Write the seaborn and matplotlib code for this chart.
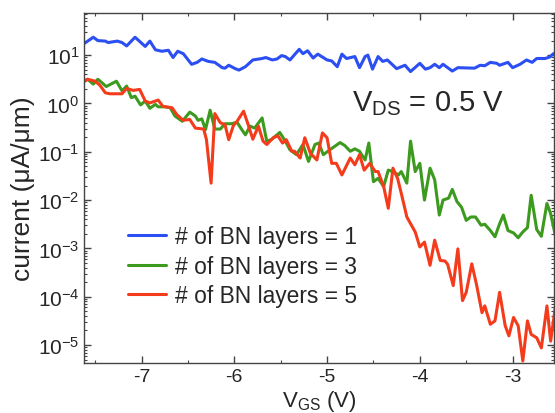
import numpy as np
import pandas as pd
import seaborn as sns
import matplotlib
matplotlib.use('Agg')
import matplotlib.pyplot as plt
from matplotlib.ticker import LogLocator, MultipleLocator, NullFormatter

# gate voltage (V) and log10 of current (uA/um)
vgs_1 = [-7.61, -7.52, -7.47, -7.39, -7.36, -7.26, -7.21, -7.16, -7.07, -6.96,
         -6.91, -6.85, -6.78, -6.71, -6.66, -6.61, -6.55, -6.46, -6.40, -6.35,
         -6.28, -6.21, -6.13, -6.10, -6.06, -5.99, -5.95, -5.88, -5.80, -5.70,
         -5.66, -5.59, -5.54, -5.49, -5.45, -5.40, -5.30, -5.26, -5.21, -5.15,
         -5.10, -5.00, -4.95, -4.89, -4.84, -4.79, -4.70, -4.65, -4.59, -4.56,
         -4.51, -4.45, -4.40, -4.35, -4.25, -4.16, -4.10, -4.00, -3.94, -3.89,
         -3.84, -3.79, -3.75, -3.65, -3.59, -3.41, -3.35, -3.30, -3.24, -3.17,
         -3.14, -3.05, -3.00, -2.92, -2.85, -2.79, -2.74, -2.65, -2.60, -2.56]
logi_1 = [1.25, 1.37, 1.30, 1.29, 1.26, 1.29, 1.26, 1.19, 1.37, 1.18,
          1.29, 1.11, 1.08, 1.10, 0.95, 1.08, 1.03, 0.81, 0.85, 0.92,
          0.87, 0.85, 0.74, 0.73, 0.79, 0.72, 0.69, 0.76, 0.90, 0.93,
          0.95, 0.90, 0.92, 0.99, 0.97, 0.90, 1.12, 1.03, 1.09, 0.94,
          1.02, 0.90, 0.88, 0.76, 1.02, 0.93, 0.97, 0.74, 0.97, 1.00,
          0.71, 0.97, 0.87, 0.90, 0.72, 0.79, 0.66, 0.83, 0.71, 0.74,
          0.81, 0.74, 0.81, 0.67, 0.74, 0.73, 0.79, 0.78, 0.85, 0.83,
          0.79, 0.85, 0.74, 0.81, 0.90, 0.85, 0.93, 0.93, 0.96, 1.03]

vgs_3 = [-7.62, -7.58, -7.52, -7.47, -7.38, -7.27, -7.21, -7.16, -7.11, -7.07,
         -7.01, -6.96, -6.91, -6.85, -6.82, -6.75, -6.69, -6.64, -6.56, -6.48,
         -6.42, -6.39, -6.35, -6.31, -6.26, -6.21, -6.15, -6.10, -6.03, -5.97,
         -5.92, -5.88, -5.83, -5.78, -5.70, -5.65, -5.60, -5.51, -5.45, -5.40,
         -5.33, -5.26, -5.20, -5.13, -5.09, -5.04, -4.97, -4.86, -4.81, -4.75,
         -4.70, -4.65, -4.59, -4.55, -4.50, -4.45, -4.39, -4.34, -4.29, -4.23,
         -4.20, -4.14, -4.10, -4.05, -4.00, -3.95, -3.89, -3.84, -3.79, -3.75,
         -3.69, -3.65, -3.60, -3.55, -3.50, -3.45, -3.40, -3.34, -3.30, -3.24,
         -3.19, -3.14, -3.10, -3.05, -2.99, -2.94, -2.89, -2.84, -2.80, -2.74,
         -2.69, -2.63, -2.59, -2.54]
logi_3 = [0.47, 0.50, 0.40, 0.50, 0.35, 0.46, 0.26, 0.36, 0.12, 0.15,
          -0.03, 0.05, -0.10, -0.02, -0.07, -0.07, -0.09, -0.26, -0.37, -0.18,
          -0.26, -0.35, -0.32, -0.54, -0.14, -0.53, -0.53, -0.42, -0.42, -0.39,
          -0.54, -0.65, -0.47, -0.51, -0.30, -0.78, -0.75, -0.60, -0.78, -0.96,
          -1.06, -0.85, -1.20, -0.85, -0.82, -1.06, -0.96, -0.81, -0.87, -0.99,
          -0.94, -0.99, -1.17, -0.82, -1.62, -1.55, -1.72, -1.38, -1.41, -1.48,
          -1.41, -1.65, -0.78, -1.41, -1.24, -2.00, -1.34, -1.58, -2.31, -2.00,
          -1.96, -1.78, -2.03, -2.15, -2.42, -2.35, -2.35, -2.52, -2.50, -2.63,
          -2.76, -2.49, -2.31, -2.63, -2.68, -2.78, -2.66, -2.57, -1.90, -2.61,
          -2.75, -2.07, -2.28, -2.73]

vgs_5 = [-7.62, -7.58, -7.50, -7.45, -7.39, -7.34, -7.21, -7.16, -7.09, -7.02,
         -6.96, -6.91, -6.82, -6.77, -6.67, -6.62, -6.55, -6.48, -6.42, -6.33,
         -6.30, -6.25, -6.21, -6.15, -6.10, -6.06, -6.01, -5.97, -5.90, -5.85,
         -5.80, -5.74, -5.69, -5.65, -5.58, -5.53, -5.48, -5.44, -5.38, -5.35,
         -5.29, -5.24, -5.18, -5.11, -5.05, -5.00, -4.95, -4.90, -4.84, -4.75,
         -4.70, -4.65, -4.60, -4.54, -4.48, -4.45, -4.39, -4.34, -4.29, -4.24,
         -4.20, -4.14, -4.05, -4.00, -3.95, -3.89, -3.84, -3.78, -3.73, -3.70,
         -3.64, -3.59, -3.54, -3.50, -3.44, -3.39, -3.33, -3.30, -3.24, -3.19,
         -3.14, -3.08, -3.04, -2.99, -2.94, -2.89, -2.84, -2.80, -2.74, -2.69,
         -2.63, -2.59, -2.54]
logi_5 = [0.45, 0.50, 0.46, 0.38, 0.22, 0.20, 0.20, 0.31, 0.27, 0.29,
          0.05, 0.01, 0.07, -0.06, -0.09, -0.23, -0.35, -0.33, -0.51, -0.53,
          -0.75, -1.65, -0.21, -0.40, -0.44, -0.75, -0.46, -0.37, -0.16, -0.44,
          -0.74, -0.47, -0.78, -0.85, -0.71, -0.67, -0.82, -0.75, -0.99, -0.99,
          -1.13, -0.71, -1.03, -1.17, -0.61, -0.71, -1.24, -1.24, -1.48, -1.13,
          -1.27, -1.06, -1.38, -1.24, -1.41, -1.41, -1.72, -2.17, -1.34, -1.55,
          -1.86, -2.35, -2.66, -2.97, -2.87, -3.35, -2.83, -3.25, -3.26, -3.33,
          -3.77, -3.01, -4.08, -3.91, -3.32, -3.74, -4.33, -4.19, -4.57, -4.50,
          -3.91, -4.60, -4.81, -4.43, -4.60, -5.33, -4.50, -4.78, -4.85, -5.06,
          -4.19, -4.92, -4.22]

labels = ['# of BN layers = 1', '# of BN layers = 3', '# of BN layers = 5']
colors = ['#2b4ff2', '#3c9a1e', '#f43c1c']

frames = []
for lab, v, li in zip(labels, [vgs_1, vgs_3, vgs_5], [logi_1, logi_3, logi_5]):
    frames.append(pd.DataFrame({'vgs': v, 'current': 10.0 ** np.array(li), 'layers': lab}))
df = pd.concat(frames, ignore_index=True)

sns.set_style('ticks', {'xtick.direction': 'in', 'ytick.direction': 'in'})
plt.rcParams['font.family'] = ['Liberation Sans', 'DejaVu Sans']
plt.rcParams['mathtext.fontset'] = 'custom'
plt.rcParams['mathtext.rm'] = 'Liberation Sans'
plt.rcParams['mathtext.it'] = 'Liberation Sans'
plt.rcParams['axes.unicode_minus'] = False

fig = plt.figure(figsize=(5.55, 4.14), dpi=100)
ax = fig.add_axes([0.152, 0.121, 0.846, 0.845])

sns.lineplot(data=df, x='vgs', y='current', hue='layers', palette=colors,
             estimator=None, linewidth=2.2, ax=ax)
ax.set_yscale('log')
ax.set_xlim(-7.616, -2.555)
ax.set_ylim(10 ** -5.37, 10 ** 1.87)

ax.xaxis.set_major_locator(MultipleLocator(1))
ax.xaxis.set_minor_locator(MultipleLocator(0.5))
ax.yaxis.set_major_locator(LogLocator(base=10, numticks=20))
ax.yaxis.set_minor_locator(LogLocator(base=10, subs=np.arange(2, 10), numticks=100))
ax.yaxis.set_minor_formatter(NullFormatter())
ax.tick_params(which='both', top=True, right=True, color='#444444')
ax.tick_params(which='major', length=5, width=1)
ax.tick_params(axis='x', which='major', labelsize=14)
ax.tick_params(axis='y', which='major', labelsize=15)
ax.tick_params(which='minor', length=2.5, width=0.8)
for s in ax.spines.values():
    s.set_color('#444444')
    s.set_linewidth(1)

ax.set_xlabel(r'$\mathrm{V_{GS}}$ (V)', fontsize=16, labelpad=2)
ax.set_ylabel('current (μA/μm)', fontsize=19, labelpad=2)

ax.text(0.57, 0.721, r'$\mathrm{V_{DS}}$ = 0.5 V', transform=ax.transAxes,
        fontsize=21, ha='left', va='baseline')

ax.legend(frameon=False, loc='center left', bbox_to_anchor=(0.074, 0.277),
          fontsize=16.4, handlelength=1.67, handletextpad=0.4, labelspacing=0.3,
          borderpad=0.4, borderaxespad=0)

fig.savefig('out.png', dpi=100)
